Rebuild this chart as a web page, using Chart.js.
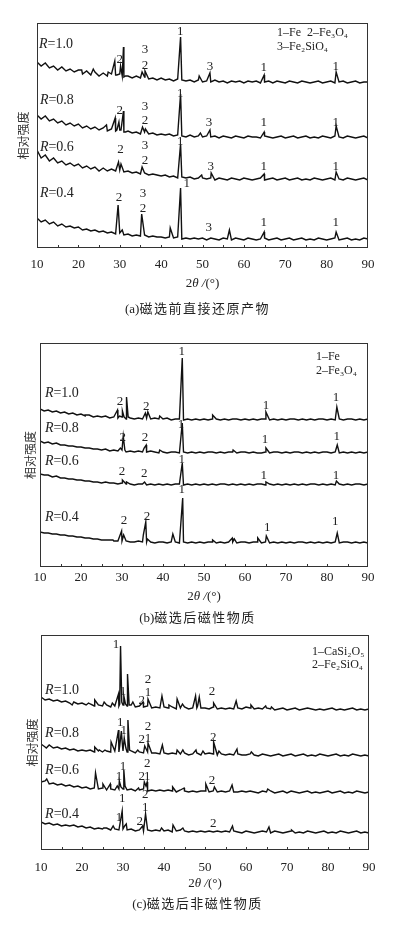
<!DOCTYPE html>
<html>
<head>
<meta charset="utf-8">
<script src="https://cdn.jsdelivr.net/npm/chart.js@4.4.1/dist/chart.umd.min.js"></script>
<style>
  body { margin: 0; background: #fff; width: 395px; height: 925px; position: relative; overflow: hidden; }
  canvas { position: absolute; left: 0; }
  .cap { position: absolute; left: 0; width: 395px; text-align: center; color: #222;
         font: 13px "Noto Sans CJK SC", sans-serif; letter-spacing: 1.5px; }
  .cap span { font-family: "Times New Roman", "Liberation Serif", serif; letter-spacing: 0; }
</style>
</head>
<body>
<canvas id="chartA" width="395" height="300" style="top:0"></canvas>
<div class="cap" style="top:298px"><span>(a)</span>磁选前直接还原产物</div>
<canvas id="chartB" width="395" height="290" style="top:320px"></canvas>
<div class="cap" style="top:607px"><span>(b)</span>磁选后磁性物质</div>
<canvas id="chartC" width="395" height="270" style="top:625px"></canvas>
<div class="cap" style="top:893px"><span>(c)</span>磁选后非磁性物质</div>
<script>
const serif = '"Times New Roman", "Liberation Serif", "DejaVu Serif", serif'
const cjk = '"Noto Sans CJK SC", sans-serif'

const ratios = ['R=1.0', 'R=0.8', 'R=0.6', 'R=0.4']

// (a) 磁选前直接还原产物 — background every 1° from 10° to 90°, plus peaks [2θ, I]
const aBase10 = [21, 17, 20, 15, 17, 13, 16, 12, 14, 11, 13, 9, 12, 8, 11, 7, 10, 7, 9, 8,
  9, 6, 7, 5, 7, 5, 6, 4, 5, 3, 5, 3, 4, 2, 4, 3, 2, 3, 1, 3,
  1, 2, 1, 3, 1, 2, 0, 2, 1, 2, 0, 2, 1, 2, 0, 1, 2, 0, 2, 1,
  0, 2, 1, 0, 2, 1, 0, 1, 2, 0, 1, 2, 0, 1, 2, 0, 1, 2, 0, 1, 1]
const aPeaks10 = [[20.8, 13], [23.6, 14], [27.2, 11], [28.8, 22], [29.3, 8], [30.2, 17], [30.6, 7], [30.9, 36],
  [31.4, 7], [35.4, 11], [36.1, 12], [44.7, 46], [49.2, 7], [51.8, 10], [64.9, 8], [82.3, 11]]
const aBase08 = [23, 19, 22, 17, 19, 15, 17, 13, 15, 12, 14, 10, 12, 9, 11, 8, 10, 7, 9, 7,
  8, 6, 7, 5, 6, 4, 6, 4, 5, 3, 4, 3, 4, 2, 3, 2, 1, 3, 1, 2,
  1, 2, 1, 2, 0, 2, 1, 0, 2, 1, 0, 2, 1, 1, 0, 2, 1, 0, 1, 2,
  0, 1, 2, 0, 1, 2, 0, 1, 0, 2, 1, 0, 2, 1, 0, 2, 1, 0, 1, 2, 0]
const aPeaks08 = [[26.8, 13], [28.9, 20], [29.3, 8], [29.8, 16], [30.3, 8], [30.9, 27], [31.4, 6], [35.5, 11],
  [36.2, 9], [44.7, 44], [49.5, 5], [51.8, 8], [64.9, 6], [82.3, 12]]
const aBase06 = [30, 22, 25, 19, 22, 17, 19, 15, 17, 14, 16, 12, 14, 11, 13, 9, 12, 9, 11, 9,
  10, 8, 9, 7, 8, 6, 7, 5, 6, 5, 4, 5, 3, 4, 2, 3, 2, 3, 1, 2,
  2, 1, 2, 0, 2, 1, 0, 2, 1, 0, 2, 1, 0, 1, 2, 0, 1, 2, 0, 1,
  2, 0, 1, 2, 0, 1, 0, 2, 1, 0, 1, 2, 0, 1, 0, 2, 1, 0, 1, 2, 0]
const aPeaks06 = [[29.7, 18], [30.3, 16], [35.4, 13], [44.7, 36], [49.8, 5], [52.1, 7], [64.9, 6], [82.3, 8]]
const aBase04 = [22, 18, 20, 16, 18, 14, 16, 13, 14, 12, 13, 10, 11, 9, 10, 8, 9, 7, 8, 6,
  7, 5, 6, 4, 5, 4, 5, 3, 4, 3, 3, 2, 3, 2, 3, 1, 2, 1, 2, 1,
  2, 0, 2, 1, 0, 2, 1, 0, 2, 1, 0, 2, 1, 0, 1, 2, 0, 1, 2, 0,
  1, 2, 0, 1, 2, 0, 1, 0, 2, 1, 0, 1, 2, 0, 1, 2, 0, 1, 0, 2, 1]
const aPeaks04 = [[29.6, 35], [30.6, 10], [35.3, 26], [42.2, 12], [44.7, 52], [56.5, 10], [64.9, 8], [82.3, 8]]
const aOffsets = [165, 110, 68, 8]

// (b) 磁选后磁性物质
const bBase10 = [11, 9, 10, 8, 9, 7, 8, 6, 7, 5, 6, 4, 5, 3, 4, 3, 4, 2, 3, 2,
  3, 1, 2, 1, 2, 1, 2, 1, 2, 1, 1, 2, 0, 1, 1, 0, 1, 0, 1, 0,
  1, 0, 1, 1, 0, 1, 0, 1, 1, 0, 1, 0, 1, 0, 1, 1, 0, 1, 0, 1,
  0, 1, 1, 0, 1, 0, 1, 0, 1, 1, 0, 1, 0, 1, 0, 1, 1, 0, 1, 0, 1]
const bPeaks10 = [[21.0, 5], [28.9, 10], [29.4, 4], [30.1, 9], [30.5, 3], [31.1, 23], [31.5, 3], [35.7, 7],
  [36.3, 8], [39.2, 4], [44.7, 62], [52.1, 5], [65.1, 8], [82.4, 13]]
const bBase08 = [12, 10, 11, 9, 10, 8, 8, 7, 7, 6, 6, 5, 5, 4, 4, 3, 4, 2, 3, 2,
  3, 1, 2, 1, 2, 1, 1, 2, 1, 0, 1, 0, 1, 1, 0, 1, 0, 1, 0, 1,
  0, 1, 1, 0, 1, 0, 1, 1, 0, 1, 1, 0, 1, 0, 0, 1, 0, 1, 1, 0,
  1, 0, 1, 1, 0, 1, 0, 1, 0, 1, 1, 0, 1, 0, 1, 0, 1, 0, 1, 0, 1]
const bPeaks08 = [[29.6, 5], [30.3, 17], [30.7, 3], [35.4, 5], [35.9, 8], [39.2, 3], [44.7, 30], [57.1, 3],
  [65.1, 5], [82.5, 8]]
const bBase06 = [11, 10, 10, 8, 9, 7, 7, 6, 6, 5, 5, 4, 4, 3, 3, 2, 3, 2, 2, 1,
  2, 1, 1, 0, 1, 1, 0, 1, 0, 1, 0, 1, 0, 1, 1, 0, 1, 0, 1, 0,
  1, 0, 1, 0, 1, 1, 0, 1, 0, 1, 0, 1, 0, 1, 1, 0, 1, 0, 1, 0,
  1, 0, 1, 0, 1, 0, 1, 1, 0, 1, 0, 1, 0, 1, 0, 1, 0, 1, 1, 0, 1]
const bPeaks06 = [[30.1, 5], [31.1, 3], [35.5, 3], [44.7, 22], [65.1, 3], [82.3, 4]]
const bBase04 = [11, 10, 10, 9, 9, 8, 8, 7, 7, 6, 6, 5, 5, 4, 4, 3, 3, 3, 2, 2,
  2, 2, 1, 1, 2, 1, 1, 1, 0, 1, 1, 0, 1, 1, 0, 1, 0, 1, 0, 1,
  0, 1, 1, 0, 1, 0, 1, 1, 0, 1, 1, 0, 1, 1, 0, 1, 0, 1, 0, 1,
  0, 1, 0, 1, 1, 0, 1, 0, 1, 0, 1, 0, 1, 0, 1, 1, 0, 1, 0, 1, 0]
const bPeaks04 = [[27.8, 3], [29.9, 12], [30.4, 8], [35.2, 8], [35.8, 21], [36.2, 4], [42.4, 9], [44.8, 45],
  [52.1, 3], [56.9, 5], [57.4, 4], [63.1, 5], [65.2, 7], [82.5, 10]]
const bOffsets = [147, 114, 82, 24]

// (c) 磁选后非磁性物质
const cBase10 = [13, 10, 11, 9, 10, 8, 9, 7, 8, 6, 7, 5, 6, 4, 5, 4, 5, 3, 4, 4,
  5, 4, 5, 3, 4, 3, 4, 2, 3, 2, 3, 2, 3, 1, 2, 3, 1, 2, 2, 2,
  2, 1, 3, 1, 2, 1, 2, 1, 2, 1, 3, 2, 1, 2, 1, 2, 1, 0, 1, 2,
  0, 1, 2, 0, 1, 2, 1, 0, 1, 0, 1, 2, 0, 1, 0, 1, 2, 0, 1, 0, 1]
const cPeaks10 = [[17.6, 5], [21.6, 7], [23.1, 10], [25.4, 8], [27.4, 7], [28.9, 16], [29.2, 6], [29.4, 64],
  [29.7, 8], [30.2, 14], [30.6, 6], [31.1, 36], [31.5, 5], [32.4, 8], [34.9, 8], [36.1, 11], [39.5, 14],
  [41.2, 5], [43.2, 11], [44.5, 6], [47.7, 14], [48.2, 4], [48.6, 13], [52.1, 7], [57.6, 9], [61.2, 5],
  [64.8, 4], [66.2, 3]]
const cBase08 = [12, 9, 11, 8, 9, 7, 8, 6, 7, 5, 6, 5, 6, 4, 5, 4, 5, 4, 5, 4,
  5, 4, 5, 3, 4, 3, 4, 3, 3, 2, 3, 2, 3, 2, 2, 3, 1, 2, 3, 1,
  2, 3, 2, 1, 2, 1, 2, 1, 2, 1, 1, 2, 1, 0, 2, 1, 0, 1, 2, 0,
  1, 2, 0, 1, 2, 0, 1, 0, 2, 1, 0, 1, 2, 0, 1, 0, 2, 1, 0, 1, 0]
const cPeaks08 = [[11.3, 8], [23.1, 9], [24.2, 6], [25.6, 6], [27.1, 14], [28.9, 26], [29.2, 10], [29.6, 25],
  [29.9, 9], [30.3, 18], [30.7, 8], [31.2, 36], [31.6, 6], [33.6, 6], [35.3, 10], [36.1, 13], [39.6, 11],
  [43.2, 6], [44.6, 6], [47.8, 6], [49.5, 5], [52.1, 14], [53.4, 5], [57.8, 7], [61.3, 4]]
const cBase06 = [11, 12, 9, 10, 8, 9, 7, 8, 6, 7, 5, 6, 4, 5, 4, 5, 3, 4, 3, 4,
  4, 3, 4, 2, 3, 4, 2, 3, 2, 3, 2, 3, 2, 1, 3, 2, 1, 2, 1, 2,
  2, 1, 2, 1, 2, 1, 2, 1, 1, 2, 1, 2, 1, 0, 2, 1, 2, 0, 1, 2,
  0, 2, 1, 0, 1, 2, 0, 1, 0, 1, 2, 0, 1, 2, 0, 1, 0, 2, 1, 0, 1]
const cPeaks06 = [[11.4, 14], [23.3, 20], [25.1, 9], [26.9, 9], [28.6, 7], [29.1, 12], [29.5, 6], [30.2, 23],
  [30.5, 7], [33.8, 5], [35.2, 11], [35.6, 7], [35.9, 11], [42.1, 6], [44.9, 5], [50.2, 9], [52.3, 6],
  [56.6, 8], [65.3, 4]]
const cBase04 = [11, 9, 10, 8, 9, 7, 8, 7, 8, 6, 7, 5, 6, 4, 5, 4, 5, 3, 4, 3,
  4, 3, 4, 2, 3, 2, 3, 2, 3, 2, 2, 3, 1, 2, 3, 2, 1, 2, 1, 2,
  1, 2, 1, 2, 1, 2, 1, 2, 1, 0, 2, 1, 0, 1, 2, 1, 0, 2, 1, 0,
  1, 2, 0, 1, 0, 2, 1, 0, 1, 2, 0, 1, 0, 2, 1, 0, 1, 2, 0, 1, 0]
const cPeaks04 = [[25.3, 5], [27.6, 7], [29.8, 22], [30.4, 7], [30.8, 9], [34.8, 7], [35.5, 19], [39.4, 5],
  [42.2, 8], [44.6, 5], [56.7, 7], [65.6, 6], [71.1, 3]]
const cOffsets = [140, 94, 57, 17]

// peak labels [2θ, height, text]
const aMarks = [[30.0, 188, '2'], [36.1, 198, '3'], [36.1, 182, '2'], [44.6, 216, '1'], [51.8, 181, '3'],
  [64.8, 180, '1'], [82.2, 181, '1'],
  [30.0, 137, '2'], [36.1, 141, '3'], [36.1, 127, '2'], [44.6, 154, '1'], [51.6, 125, '3'], [64.8, 125, '1'],
  [82.2, 125, '1'],
  [30.2, 98, '2'], [36.1, 102, '3'], [36.1, 87, '2'], [44.6, 106, '1'], [52.0, 81, '3'], [64.8, 81, '1'],
  [82.2, 81, '1'],
  [29.8, 50, '2'], [35.6, 54, '3'], [35.6, 39, '2'], [46.2, 64, '1'], [51.5, 20, '3'], [64.8, 25, '1'],
  [82.2, 25, '1']]
const bMarks = [[29.5, 165, '2'], [35.9, 160, '2'], [44.6, 215, '1'], [65.1, 161, '1'], [82.2, 169, '1'],
  [30.2, 129, '2'], [35.6, 129, '2'], [44.4, 142, '1'], [64.9, 127, '1'], [82.4, 130, '1'],
  [30.0, 95, '2'], [35.4, 93, '2'], [44.6, 107, '1'], [64.6, 91, '1'], [82.2, 91, '1'],
  [30.5, 46, '2'], [36.1, 50, '2'], [44.6, 77, '1'], [65.4, 39, '1'], [82.0, 45, '1']]
const cMarks = [[28.3, 205, '1'], [30.0, 158, '1'], [34.6, 149, '2'], [36.1, 170, '2'], [36.1, 157, '1'],
  [51.7, 158, '2'],
  [29.3, 127, '1'], [30.2, 119, '1'], [34.6, 110, '2'], [36.1, 111, '1'], [36.1, 123, '2'], [52.0, 112, '2'],
  [29.0, 73, '1'], [30.0, 83, '1'], [34.6, 73, '2'], [35.9, 73, '1'], [35.9, 86, '2'], [51.7, 69, '2'],
  [29.0, 32, '1'], [29.8, 51, '1'], [34.1, 28, '2'], [35.4, 55, '2'], [35.4, 42, '1'], [52.0, 26, '2']]

const aLegend = ['1–Fe  2–Fe₃O₄', '3–Fe₂SiO₄']
const bLegend = ['1–Fe', '2–Fe₃O₄']
const cLegend = ['1–CaSi₂O₅', '2–Fe₂SiO₄']

function buildSeries(base, peaks, off) {
    const pts = base.map((v, i) => ({ x: 10 + i, y: v + off }))
    peaks.forEach(([x, v]) => pts.push({ x: x, y: v + off }))
    return pts.sort((p, q) => p.x - q.x)
}

function drawRich(ctx, parts, px, py, size, align) {
    const fonts = parts.map(p => (p[1] ? 'italic ' : '') + size + 'px ' + serif)
    let w = 0
    parts.forEach((p, i) => { ctx.font = fonts[i]; w += ctx.measureText(p[0]).width })
    let cx = align === 'center' ? px - w / 2 : px
    parts.forEach((p, i) => {
        ctx.font = fonts[i]
        ctx.textAlign = 'left'
        ctx.fillText(p[0], cx, py)
        cx += ctx.measureText(p[0]).width
    })
}

const decor = {
    id: 'decor',
    afterDatasetsDraw(chart, args, opts) {
        const { ctx, chartArea: a, scales: { x, y } } = chart
        ctx.save()
        ctx.strokeStyle = '#333'
        ctx.lineWidth = 1
        ctx.strokeRect(a.left + 0.5, a.top + 0.5, a.right - a.left - 1, a.bottom - a.top - 1)
        ctx.beginPath()
        for (let v = 15; v < 90; v += 5) {
            const px = Math.round(x.getPixelForValue(v)) + 0.5
            ctx.moveTo(px, a.bottom)
            ctx.lineTo(px, a.bottom - 3)
        }
        ctx.stroke()

        ctx.fillStyle = '#222'
        ctx.textBaseline = 'middle'
        ctx.textAlign = 'center'
        ctx.font = '13px ' + serif
        opts.marks.forEach(([v, h, t]) => ctx.fillText(t, x.getPixelForValue(v), y.getPixelForValue(h)))

        opts.rPos.forEach(([v, h], i) => {
            drawRich(ctx, [['R', true], [ratios[i].slice(1), false]], x.getPixelForValue(v), y.getPixelForValue(h), 14, 'left')
        })

        ctx.textAlign = 'left'
        ctx.font = '12px ' + serif
        opts.legend.forEach((t, i) => {
            ctx.fillText(t, x.getPixelForValue(opts.legendPos[0]), y.getPixelForValue(opts.legendPos[1 + i]))
        })

        drawRich(ctx, [['2', false], ['θ /', true], ['(°)', false]], (a.left + a.right) / 2, opts.titleY, 13, 'center')
        ctx.restore()
    }
}

function makeChart(id, cfg) {
    return new Chart(document.getElementById(id).getContext('2d'), {
        type: 'line',
        data: {
            datasets: cfg.series.map(s => ({
                data: buildSeries(s[0], s[1], s[2]),
                borderColor: '#111',
                borderWidth: 1.4,
                pointRadius: 0,
                tension: 0,
            })),
        },
        options: {
            responsive: false,
            animation: false,
            layout: {
                padding: { top: cfg.padTop, right: cfg.padRight, left: 0, bottom: 0 },
            },
            plugins: {
                legend: { display: false },
                tooltip: { enabled: false },
                decor: cfg.decor,
            },
            scales: {
                x: {
                    type: 'linear',
                    min: 10,
                    max: 90,
                    afterFit: s => { s.height = cfg.xH },
                    grid: { display: false, drawTicks: false },
                    border: { display: false },
                    ticks: {
                        stepSize: 10,
                        padding: cfg.tickPad,
                        color: '#222',
                        font: { family: serif, size: 13 },
                    },
                },
                y: {
                    min: 0,
                    max: cfg.yMax,
                    afterFit: s => { s.width = cfg.yW },
                    grid: { display: false, drawTicks: false },
                    border: { display: false },
                    ticks: { display: false },
                    title: {
                        display: true,
                        text: '相对强度',
                        color: '#333',
                        font: { family: cjk, size: 12 },
                        padding: { top: cfg.yTitlePad, bottom: 0 },
                    },
                },
            },
        },
        plugins: [decor],
    })
}

makeChart('chartA', {
    series: [[aBase10, aPeaks10, aOffsets[0]], [aBase08, aPeaks08, aOffsets[1]],
             [aBase06, aPeaks06, aOffsets[2]], [aBase04, aPeaks04, aOffsets[3]]],
    padTop: 23, padRight: 27, xH: 52, yW: 37, yMax: 225, tickPad: 9, yTitlePad: 16,
    decor: { marks: aMarks, rPos: [[10.5, 204], [10.7, 148], [10.7, 101], [10.7, 55]],
             legend: aLegend, legendPos: [68.0, 215, 201], titleY: 284 },
})

makeChart('chartB', {
    series: [[bBase10, bPeaks10, bOffsets[0]], [bBase08, bPeaks08, bOffsets[1]],
             [bBase06, bPeaks06, bOffsets[2]], [bBase04, bPeaks04, bOffsets[3]]],
    padTop: 23, padRight: 27, xH: 43, yW: 40, yMax: 224, tickPad: 3, yTitlePad: 23,
    decor: { marks: bMarks, rPos: [[11.2, 174], [11.2, 139], [11.2, 106], [11.2, 50]],
             legend: bLegend, legendPos: [77.3, 210, 196], titleY: 277 },
})

makeChart('chartC', {
    series: [[cBase10, cPeaks10, cOffsets[0]], [cBase08, cPeaks08, cOffsets[1]],
             [cBase06, cPeaks06, cOffsets[2]], [cBase04, cPeaks04, cOffsets[3]]],
    padTop: 10, padRight: 26, xH: 45, yW: 41, yMax: 215, tickPad: 10, yTitlePad: 25,
    decor: { marks: cMarks, rPos: [[11.0, 160], [11.0, 117], [11.0, 80], [11.0, 36]],
             legend: cLegend, legendPos: [76.1, 198, 185], titleY: 259 },
})
</script>
</body>
</html>
